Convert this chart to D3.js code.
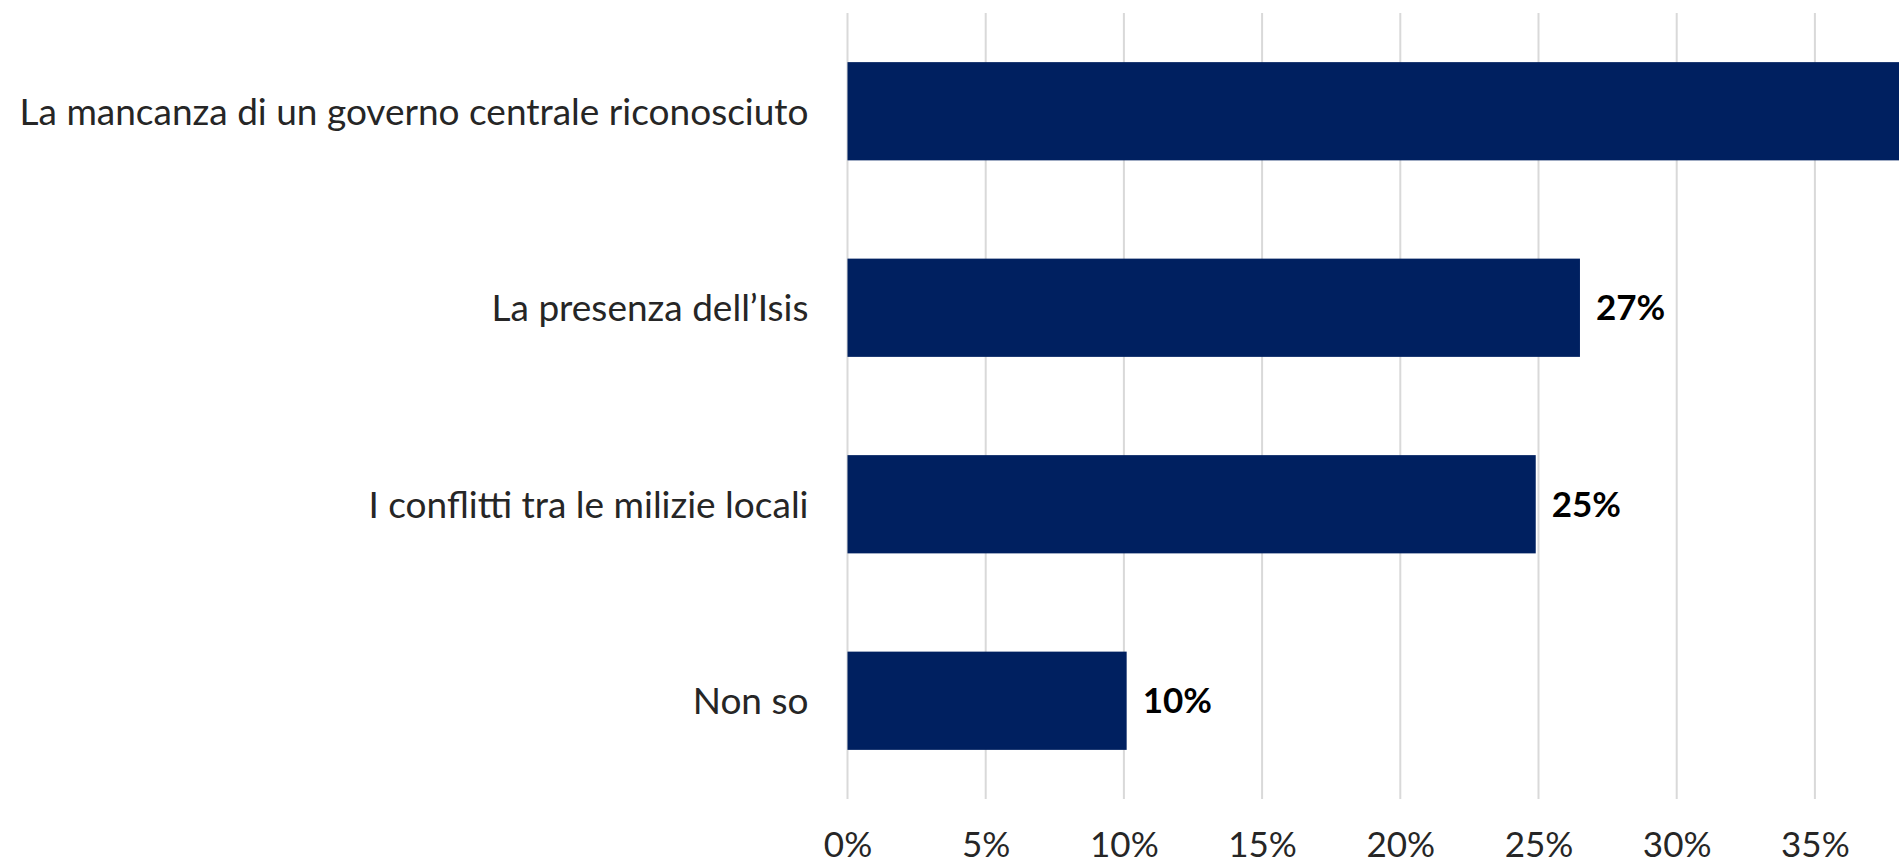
<!DOCTYPE html>
<html>
<head>
<meta charset="utf-8">
<script src="https://cdn.jsdelivr.net/npm/d3@7"></script>
<style>
  html, body { margin: 0; padding: 0; background: #ffffff; }
  svg { display: block; }
</style>
</head>
<body>
<svg id="chart" width="1899" height="865"></svg>
<script>
// Survey answers (share of respondents)
const categories = [
  "La mancanza di un governo centrale riconosciuto",
  "La presenza dell\u2019Isis",
  "I conflitti tra le milizie locali",
  "Non so"
];
const values = [0.384, 0.265, 0.249, 0.101];
const tickValues = [0, 0.05, 0.10, 0.15, 0.20, 0.25, 0.30, 0.35];

const W = 1899, H = 865;
const margin = { left: 847.5, top: 13, bottom: 66 };
const pxPer5 = 138.2;

const svg = d3.select("#chart");

const x = d3.scaleLinear()
  .domain([0, 0.05])
  .range([margin.left, margin.left + pxPer5]);

const y = d3.scaleBand()
  .domain(categories)
  .range([margin.top, H - margin.bottom])
  .paddingInner(0.5)
  .paddingOuter(0.25);

const font = "Lato, 'Liberation Sans', sans-serif";

// vertical gridlines
svg.append("g")
  .selectAll("line")
  .data(tickValues)
  .join("line")
  .attr("x1", d => x(d)).attr("x2", d => x(d))
  .attr("y1", margin.top).attr("y2", H - margin.bottom)
  .attr("stroke", "#d9d9d9")
  .attr("stroke-width", 2);

// x axis tick labels
const xAxis = d3.axisBottom(x)
  .tickValues(tickValues)
  .tickFormat(d3.format(".0%"))
  .tickSize(0)
  .tickPadding(0);
const gx = svg.append("g")
  .attr("transform", `translate(0, 857)`)
  .call(xAxis);
gx.select(".domain").remove();
gx.selectAll("text")
  .attr("font-family", font)
  .attr("font-size", 35)
  .attr("fill", "#262626")
  .attr("y", 0)
  .attr("dy", "0");

// bars (the longest runs past the right edge of the view)
svg.append("g")
  .selectAll("rect")
  .data(categories)
  .join("rect")
  .attr("x", x(0))
  .attr("y", d => y(d))
  .attr("width", (d, i) => x(values[i]) - x(0))
  .attr("height", y.bandwidth())
  .attr("fill", "#002060");

// value labels, only for bars whose end lies inside the view
const labelled = categories
  .map((c, i) => ({ c, v: values[i] }))
  .filter(d => x(d.v) + 16 < W);
svg.append("g")
  .selectAll("text")
  .data(labelled)
  .join("text")
  .attr("x", d => x(d.v) + 16)
  .attr("y", d => y(d.c) + y.bandwidth() / 2)
  .attr("dy", "0.36em")
  .attr("font-family", font)
  .attr("font-weight", "bold")
  .attr("font-size", 35)
  .attr("fill", "#000000")
  .text(d => d3.format(".0%")(d.v));

// category labels
const yAxis = d3.axisLeft(y).tickSize(0).tickPadding(39);
const gy = svg.append("g")
  .attr("transform", `translate(${x(0)}, 0)`)
  .call(yAxis);
gy.select(".domain").remove();
gy.selectAll("text")
  .attr("font-family", font)
  .attr("font-size", 37)
  .attr("fill", "#262626")
  .attr("dy", "0.36em");
</script>
</body>
</html>
